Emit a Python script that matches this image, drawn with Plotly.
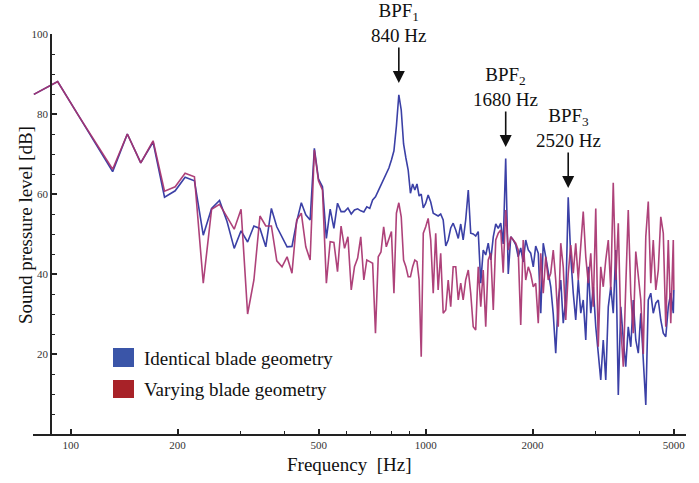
import numpy as np
import plotly.graph_objects as go

# ---------------- data ----------------
freq_low = [78.75, 91.88, 105.0, 118.13, 131.25, 144.38, 157.5, 170.63, 183.75, 196.88,
            210.0, 223.13, 236.25, 249.38, 262.5, 275.63, 288.75, 301.88, 315.0, 328.13,
            341.25, 354.38, 367.5, 380.63, 393.75, 406.88, 420.0, 433.13, 446.25, 459.38,
            472.5, 485.63, 498.75, 511.88, 525.0, 538.13, 551.25, 564.38, 577.5, 590.63,
            603.75, 616.88, 630.0, 643.13, 656.25, 669.38, 682.5, 695.63, 708.75, 721.88,
            735.0, 748.13, 761.25, 774.38, 787.5, 800.63, 813.75, 826.88, 840.0, 853.13,
            866.25, 879.38, 892.5, 905.63, 918.75, 931.88, 945.0, 958.13, 971.25, 984.38]

freq_high = [1000, 1016, 1033, 1050, 1067, 1084, 1102, 1120, 1139, 1157,
             1176, 1195, 1215, 1235, 1255, 1275, 1296, 1318, 1339, 1361,
             1383, 1406, 1429, 1452, 1476, 1500, 1525, 1550, 1575, 1601,
             1627, 1653, 1680, 1708, 1736, 1764, 1793, 1822, 1852, 1882,
             1913, 1945, 1976, 2009, 2041, 2075, 2109, 2143, 2178, 2214,
             2250, 2287, 2324, 2362, 2401, 2440, 2480, 2520, 2562, 2604,
             2646, 2690, 2734, 2778, 2824, 2870, 2917, 2965, 3013, 3062,
             3112, 3163, 3215, 3268, 3321, 3375, 3431, 3487, 3544, 3602,
             3660, 3720, 3781, 3843, 3906, 3970, 4035, 4101, 4168, 4236,
             4305, 4375, 4447, 4520, 4594, 4669, 4745, 4823, 4901, 4982, 5000]

identical_low = [84.9, 88.1, 79.7, 72.4, 65.6, 75.0, 67.8, 73.0, 59.2, 60.8,
                 64.2, 63.3, 49.7, 56.4, 58.4, 53.1, 46.4, 50.8, 48.0, 52.0,
                 51.4, 46.8, 56.4, 51.8, 49.3, 46.8, 46.9, 53.1, 57.8, 54.8,
                 53.5, 71.4, 63.8, 61.8, 48.9, 56.2, 51.4, 57.7, 55.6, 55.6,
                 56.5, 55.0, 56.0, 56.3, 55.8, 55.5, 56.8, 56.4, 58.5, 59.3,
                 60.8, 62.3, 63.8, 65.0, 66.5, 68.5, 70.8, 77.0, 84.8, 81.0,
                 72.5, 69.0, 66.0, 60.2, 62.5, 61.0, 62.5, 59.5, 60.0, 56.5]

identical_high = [57.7, 59.75, 58.0, 55.2, 54.8, 54.5, 55.0, 53.5, 47.0, 48.5,
                  51.5, 52.7, 51.0, 48.9, 52.5, 48.5, 53.5, 61.0, 50.2, 50.0,
                  49.5, 50.6, 37.7, 46.0, 44.75, 47.7, 43.5, 49.3, 52.5, 51.4,
                  52.7, 47.5, 68.9, 40.0, 49.3, 48.5, 47.3, 44.3, 46.5, 43.0,
                  48.5, 46.0, 45.2, 41.8, 47.0, 45.2, 30.2, 47.7, 44.3, 40.0,
                  36.8, 30.0, 20.2, 33.5, 38.5, 27.7, 33.5, 59.2, 44.3, 35.2,
                  28.5, 38.5, 30.2, 33.5, 23.5, 41.8, 30.2, 36.8, 26.8, 20.2,
                  13.5, 23.5, 13.5, 31.8, 36.8, 30.2, 46.0, 9.75, 31.8, 23.5,
                  16.8, 26.8, 21.8, 33.5, 23.5, 20.2, 30.2, 18.5, 7.25, 33.5,
                  35.2, 30.2, 32.7, 33.5, 28.5, 25.2, 24.3, 31.8, 35.2, 30.2, 36.0]

varying_low = [84.9, 88.1, 79.7, 72.4, 66.2, 75.0, 67.8, 73.3, 60.7, 61.8,
               65.2, 64.3, 37.7, 56.2, 57.4, 54.3, 51.2, 56.2, 30.0, 38.5,
               54.5, 52.0, 52.0, 43.3, 41.8, 44.3, 40.2, 53.5, 55.2, 46.8,
               43.5, 71.0, 63.3, 61.0, 37.7, 48.1, 47.9, 40.6, 52.0, 46.4,
               49.3, 36.0, 41.8, 44.0, 49.3, 38.5, 43.5, 43.1, 42.7, 25.2,
               44.3, 45.5, 51.8, 46.8, 48.5, 50.6, 35.2, 55.2, 57.8, 54.3,
               43.5, 41.8, 39.3, 39.3, 41.8, 43.5, 43.1, 38.5, 19.3, 50.2]

varying_high = [51.8, 53.9, 48.5, 35.2, 50.2, 36.0, 45.2, 30.2, 31.0, 38.5,
                31.8, 41.8, 41.8, 33.5, 37.7, 33.5, 38.5, 41.0, 35.2, 26.8,
                26.0, 41.8, 31.8, 41.0, 26.8, 43.5, 45.2, 31.0, 48.5, 50.2,
                51.0, 40.3, 56.0, 46.0, 49.3, 48.5, 47.7, 46.0, 27.25, 48.5,
                38.5, 41.8, 40.0, 36.8, 37.7, 27.7, 45.2, 35.2, 44.3, 38.5,
                40.2, 46.0, 38.5, 26.8, 47.7, 41.8, 28.5, 40.0, 47.25, 40.2,
                47.7, 38.5, 46.0, 55.6, 44.3, 37.7, 45.2, 31.8, 56.4, 21.8,
                41.8, 36.8, 43.5, 48.5, 36.0, 62.8, 38.5, 52.7, 26.8, 16.8,
                36.8, 56.0, 35.2, 25.2, 45.6, 40.2, 33.5, 20.0, 49.3, 58.1,
                37.7, 48.5, 36.0, 41.0, 54.3, 50.2, 26.8, 48.5, 27.7, 48.5, 36.0]

series_names = ["Identical blade geometry", "Varying blade geometry"]
x_ticks = [100, 200, 500, 1000, 2000, 5000]
x_minor = [300, 400, 600, 700, 800, 900, 3000, 4000]
y_ticks = [20, 40, 60, 80, 100]
y_minor = [5, 10, 15, 25, 30, 35, 45, 50, 55, 65, 70, 75, 85, 90, 95]
bpf_freqs = [840, 1680, 2520]
bpf_labels = ["BPF<sub>1</sub><br>840 Hz", "BPF<sub>2</sub><br>1680 Hz", "BPF<sub>3</sub><br>2520 Hz"]
bpf_tips = [87.75, 71.75, 61.5]   # dB level where each arrow head ends

# ---------------- styling ----------------
BLUE_LINE = "#3b40a6"
RED_LINE = "#a8336f"
BLUE_KEY = "#3a55a8"
RED_KEY = "#a82228"
SERIF = "Liberation Serif"
AX = "#222222"

freq = freq_low + freq_high
identical = identical_low + identical_high
varying = varying_low + varying_high

fig = go.Figure()
fig.add_trace(go.Scatter(x=freq, y=identical, mode="lines", name=series_names[0],
                         line=dict(color=BLUE_LINE, width=1.6), showlegend=False))
fig.add_trace(go.Scatter(x=freq, y=varying, mode="lines", name=series_names[1],
                         line=dict(color=RED_LINE, width=1.6), opacity=0.92, showlegend=False))

W, H = 699, 483
ml, mr, mt, mb = 33, 13, 34, 49
pw = W - ml - mr
ph = H - mt - mb

def px_to_paper_x(px):
    return (px - ml) / pw

def px_to_paper_y(py):
    return (H - mb - py) / ph

fig.update_layout(
    width=W, height=H,
    margin=dict(l=ml, r=mr, t=mt, b=mb),
    paper_bgcolor="white", plot_bgcolor="white",
    font=dict(family=SERIF, color="#111"),
    xaxis=dict(type="log", range=[np.log10(78.3), np.log10(5410)],
               tickvals=x_ticks, ticktext=[str(v) for v in x_ticks],
               ticks="inside", ticklen=5, tickwidth=1.5, tickcolor=AX,
               minor=dict(tickvals=x_minor, ticks="inside", ticklen=3, tickwidth=1.3, tickcolor=AX),
               showline=True, linewidth=1.8, linecolor=AX,
               showgrid=False, zeroline=False,
               tickfont=dict(family=SERIF, size=11, color="#333")),
    yaxis=dict(range=[0, 100], anchor="free", position=px_to_paper_x(51),
               tickvals=y_ticks, ticks="inside", ticklen=5, tickwidth=1.5, tickcolor=AX,
               minor=dict(tickvals=y_minor, ticks="inside", ticklen=3, tickwidth=1.3, tickcolor=AX),
               showline=True, linewidth=1.8, linecolor=AX,
               showgrid=False, zeroline=False,
               tickfont=dict(family=SERIF, size=11, color="#333")),
)

annotations = []
# axis titles
annotations.append(dict(text="Sound pressure level [dB]", xref="paper", yref="paper",
                        x=px_to_paper_x(25), y=px_to_paper_y(225), textangle=-90,
                        showarrow=False, xanchor="center", yanchor="middle",
                        font=dict(family=SERIF, size=19, color="#111")))
annotations.append(dict(text="Frequency  [Hz]", xref="paper", yref="paper",
                        x=px_to_paper_x(349.5), y=px_to_paper_y(464),
                        showarrow=False, xanchor="center", yanchor="middle",
                        font=dict(family=SERIF, size=19, color="#111")))

# BPF labels with arrows pointing to the peaks
for f, lab, tip in zip(bpf_freqs, bpf_labels, bpf_tips):
    annotations.append(dict(text=lab, x=np.log10(f), y=tip, xref="x", yref="y",
                            ax=0, ay=-60, showarrow=True, arrowhead=2,
                            arrowsize=1.5, arrowwidth=1.6, arrowcolor="#111",
                            font=dict(family=SERIF, size=19, color="#111")))

# legend (manual)
key_rows = [(348, 367, BLUE_KEY, 358), (380, 398, RED_KEY, 389)]
shapes = []
for (y0, y1, col, yc), name in zip(key_rows, series_names):
    shapes.append(dict(type="rect", xref="paper", yref="paper",
                       x0=px_to_paper_x(113), x1=px_to_paper_x(134),
                       y0=px_to_paper_y(y1), y1=px_to_paper_y(y0),
                       fillcolor=col, line=dict(width=0)))
    annotations.append(dict(text=name, xref="paper", yref="paper",
                            x=px_to_paper_x(142), y=px_to_paper_y(yc),
                            showarrow=False, xanchor="left", yanchor="middle",
                            font=dict(family=SERIF, size=19, color="#111")))

fig.update_layout(annotations=annotations, shapes=shapes)
fig.write_html("out.html")
